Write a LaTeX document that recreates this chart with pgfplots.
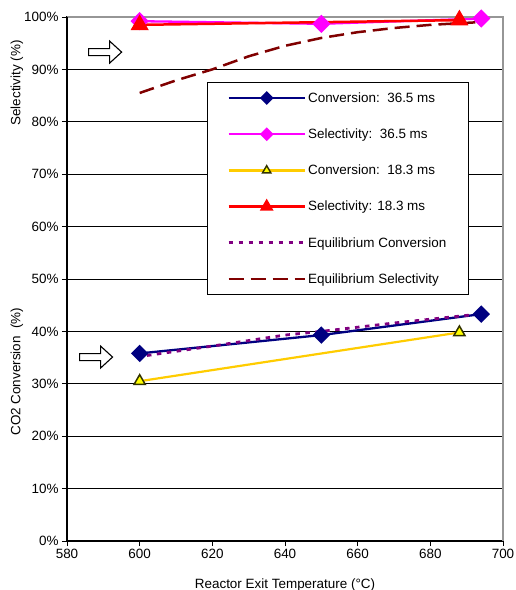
\documentclass[border=0pt]{standalone}
\usepackage{fontspec}
\setmainfont{Liberation Sans}
\usepackage{pgfplots}
\pgfplotsset{compat=1.18}
\usetikzlibrary{calc}
\definecolor{navyc}{RGB}{0,0,128}
\definecolor{magc}{RGB}{255,0,255}
\definecolor{goldc}{RGB}{255,204,0}
\definecolor{yelc}{RGB}{255,255,0}
\definecolor{olivec}{RGB}{51,51,0}
\definecolor{redc}{RGB}{255,0,0}
\definecolor{purc}{RGB}{128,0,128}
\definecolor{maroonc}{RGB}{128,0,0}
\definecolor{bordc}{RGB}{150,150,150}
\begin{document}
\begin{tikzpicture}
\begin{axis}[
  name=ax, scale only axis, width=436bp, height=524bp,
  xmin=580, xmax=700, ymin=0, ymax=100,
  xtick={580,600,...,700}, ytick={0,10,...,100},
  yticklabel={\pgfmathprintnumber{\tick}\%},
  /pgf/number format/assume math mode=true,
  tick align=outside, tick pos=left, major tick length=5bp,
  tick style={black, line width=0.8bp},
  ymajorgrids, grid style={black, line width=0.7bp},
  axis line style={black, line width=1.2bp},
  font=\fontsize{13.5}{16}\selectfont,
  ticklabel style={font=\fontsize{13.5}{16}\selectfont},
  xlabel={Reactor Exit Temperature (°C)},
  xlabel style={font=\fontsize{13.5}{16}\selectfont, yshift=-13bp},
  legend style={at={(axis cs:618.5,87.6)}, anchor=north west, draw=black, line width=0.8bp,
    fill=white, inner xsep=20bp, inner ysep=8bp, row sep=21bp,
    font=\fontsize{13.5}{16}\selectfont, cells={anchor=west}},
  legend image code/.code={\draw[#1, mark repeat=2, mark phase=2] plot coordinates {(0bp,0bp) (38bp,0bp) (76bp,0bp)};},
  clip=false,
]
\addlegendimage{navyc, line width=2.3bp, mark=square*, mark options={rotate=45, solid, mark size=3.7bp}}
\addlegendentry{Conversion:\ \ 36.5 ms}
\addlegendimage{magc, line width=2.3bp, mark=square*, mark options={rotate=45, solid, mark size=3.7bp}}
\addlegendentry{Selectivity:\ \ 36.5 ms}
\addlegendimage{goldc, line width=2.2bp, mark=triangle*, mark options={solid, fill=yelc, draw=olivec, line width=1.4bp, mark size=4.8bp}}
\addlegendentry{Conversion:\ \ 18.3 ms}
\addlegendimage{redc, line width=2.5bp, mark=triangle*, mark options={solid, mark size=5.5bp}}
\addlegendentry{Selectivity: 18.3 ms}
\addlegendimage{purc, line width=2.8bp, dash pattern=on 4.5bp off 5.5bp}
\addlegendentry{Equilibrium Conversion}
\addlegendimage{maroonc, line width=2.5bp, dash pattern=on 15bp off 7bp}
\addlegendentry{Equilibrium Selectivity}
\addplot[forget plot, navyc, line width=2.3bp, mark=square*, mark options={rotate=45, solid, mark size=5bp}]
  coordinates {(600,35.8) (650,39.3) (694,43.3)};
\addplot[forget plot, magc, line width=2.3bp, mark=square*, mark options={rotate=45, solid, mark size=5.3bp}]
  coordinates {(600,99.2) (650,98.7) (694,99.7)};
\addplot[forget plot, goldc, line width=2.2bp, mark=triangle*, mark options={solid, fill=yelc, draw=olivec, line width=1.5bp, mark size=6.5bp}]
  coordinates {(600,30.5) (688,39.8)};
\addplot[forget plot, redc, line width=2.5bp, mark=triangle*, mark options={solid, mark size=8bp}]
  coordinates {(600,98.5) (688,99.4)};
\addplot[forget plot, purc, line width=2.8bp, dash pattern=on 4.5bp off 5.5bp]
  coordinates {(602,35.4) (620,37.2) (640,39.3) (650,40.0) (670,41.6) (692,43.2)};
\addplot[forget plot, maroonc, line width=2.5bp, dash pattern=on 15bp off 7bp]
  coordinates {(600,85.5) (610,87.9) (620,90.0) (630,92.5) (640,94.5) (650,96.0) (660,97.1) (670,97.9) (680,98.5) (693,99.0)};
\draw[bordc, line width=1.8bp] (rel axis cs:0,1) -- (rel axis cs:1,1) -- (rel axis cs:1,0);
\draw[black, line width=1.2bp] (rel axis cs:0,0) -- (rel axis cs:0,1);
\draw[black, line width=1.1bp, fill=white] (axis cs:590.5,93.3) ++(-16.5bp,-3.5bp) -- ++(21bp,0bp) -- ++(0bp,-7.5bp) -- ++(12bp,11bp) -- ++(-12bp,11bp) -- ++(0bp,-7.5bp) -- ++(-21bp,0bp) -- cycle;
\draw[black, line width=1.1bp, fill=white] (axis cs:588,35.1) ++(-16.5bp,-3.5bp) -- ++(21bp,0bp) -- ++(0bp,-7.5bp) -- ++(12bp,11bp) -- ++(-12bp,11bp) -- ++(0bp,-7.5bp) -- ++(-21bp,0bp) -- cycle;
\node[rotate=90, font=\fontsize{13.5}{16}\selectfont] at ($(axis cs:580,87.4)+(-50bp,0bp)$) {Selectivity (\%)};
\node[rotate=90, font=\fontsize{13.5}{16}\selectfont] at ($(axis cs:580,32.3)+(-50bp,0bp)$) {CO2 Conversion\ \ (\%)};
\end{axis}
\pgfresetboundingbox
\path ([xshift=-67bp, yshift=-49bp]ax.south west) rectangle ([xshift=13bp, yshift=17bp]ax.north east);
\end{tikzpicture}
\end{document}
